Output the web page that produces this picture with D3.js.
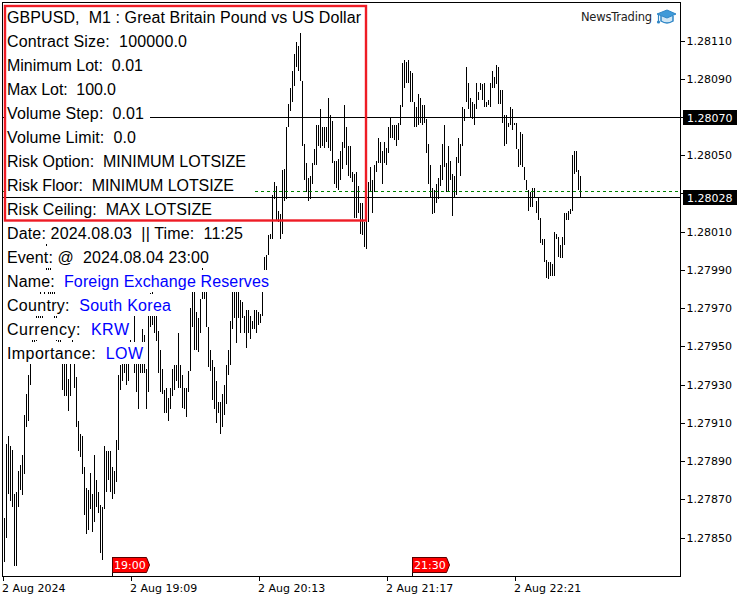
<!DOCTYPE html>
<html>
<head>
<meta charset="utf-8">
<script src="https://cdn.jsdelivr.net/npm/d3@7"></script>
<style>
  html, body { margin: 0; padding: 0; background: #fff; }
  svg { display: block; }
  text { white-space: pre; }
  .tick text { font-family: "DejaVu Sans", sans-serif; font-size: 11px; fill: #000; }
  .tick line { stroke: #000; shape-rendering: crispEdges; }
</style>
</head>
<body>
<svg id="chart" width="750" height="600"></svg>
<script>
// one minute bars, 1 + v/100000 gives the price
var highs = [
27860,27899,27903,27898,27896,27873,27874,27885,27888,27893,27914,27925,27935,27951,27956,27961,27968,27969,27979,27977,
27982,28004,27994,27993,27982,27981,27967,27956,27954,27951,27948,27948,27933,27951,27954,27947,27934,27911,27904,27903,
27887,27876,27875,27884,27873,27893,27880,27874,27867,27866,27898,27895,27895,27895,27887,27885,27901,27935,27940,27943,
27944,27945,27944,27954,27951,27966,27948,27945,27943,27959,27956,27938,27966,27978,27979,27974,27972,27958,27948,27938,
27927,27928,27923,27928,27938,27940,27940,27957,27940,27935,27928,27928,27937,27970,27982,27985,27968,27965,27975,27993,
27987,27982,27960,27948,27943,27939,27932,27921,27921,27925,27930,27940,27948,27963,27981,27981,27982,27982,27974,27973,
27966,27969,27969,27966,27963,27969,27969,27968,27967,27990,27997,27998,28008,28009,28029,28036,28034,28021,28019,28042,
28043,28065,28077,28085,28094,28103,28109,28107,28114,28089,28056,28046,28038,28039,28046,28053,28066,28066,28074,28065,
28065,28065,28080,28071,28068,28047,28047,28048,28052,28057,28076,28065,28055,28055,28041,28040,28041,28034,28025,28025,
28015,28032,28036,28044,28037,28045,28047,28059,28057,28052,28057,28054,28065,28070,28066,28066,28066,28067,28076,28098,
28100,28099,28100,28094,28093,28078,28075,28082,28080,28076,28076,28069,28056,28045,28033,28032,28035,28038,28045,28056,
28066,28046,28055,28047,28040,28039,28049,28059,28056,28075,28074,28096,28088,28080,28078,28077,28088,28083,28088,28087,
28088,28078,28079,28088,28094,28091,28097,28096,28084,28084,28071,28071,28067,28075,28074,28067,28067,28053,28062,28061,
28044,28037,28032,28031,28033,28033,28026,28028,28017,28006,28006,27995,27994,27994,27993,28010,28009,28007,28003,28007,
28020,28020,28021,28022,28050,28052,28052,28042,28039
];
var lows = [
27837,27850,27873,27869,27866,27835,27835,27866,27875,27872,27883,27908,27911,27930,27943,27948,27953,27956,27961,27964,
27969,27979,27977,27974,27969,27961,27953,27943,27942,27927,27924,27924,27916,27924,27942,27928,27908,27895,27892,27883,
27862,27852,27854,27865,27853,27858,27866,27863,27842,27838,27865,27874,27880,27874,27870,27873,27879,27896,27927,27932,
27936,27930,27932,27942,27942,27936,27926,27917,27936,27936,27936,27917,27926,27960,27961,27957,27953,27936,27926,27925,
27915,27915,27911,27917,27924,27927,27932,27928,27928,27918,27917,27913,27926,27937,27960,27948,27948,27947,27957,27975,
27975,27960,27939,27937,27922,27917,27910,27915,27904,27908,27914,27920,27935,27940,27959,27965,27952,27965,27957,27965,
27957,27949,27957,27954,27959,27959,27957,27961,27962,27966,27990,27990,27998,28006,28006,28027,28016,28015,28006,28009,
28026,28027,28065,28073,28078,28086,28096,28094,28089,28055,28037,28031,28026,28027,28035,28045,28045,28055,28054,28055,
28054,28057,28054,28052,28046,28035,28033,28032,28037,28043,28054,28045,28039,28038,28036,28017,28017,28020,28009,28008,
28002,28001,28015,28031,28020,28031,28041,28046,28046,28035,28046,28045,28051,28059,28059,28058,28055,28058,28066,28075,
28085,28088,28088,28078,28078,28065,28065,28066,28067,28066,28067,28051,28035,28028,28019,28020,28025,28027,28034,28037,
28044,28031,28031,28037,28018,28028,28029,28046,28039,28055,28068,28078,28074,28070,28069,28066,28074,28079,28084,28079,
28075,28075,28076,28075,28085,28085,28087,28077,28077,28067,28055,28056,28065,28066,28063,28066,28053,28044,28045,28044,
28037,28032,28021,28023,28023,28028,28020,28016,28004,28003,27994,27986,27985,27987,27987,27987,28006,27997,27996,27996,
28003,28016,28016,28019,28021,28040,28041,28032,28028
];

var priceTicks = [28110,28090,28070,28050,28030,28010,27990,27970,27950,27930,27910,27890,27870,27850];
var hiddenTickLabels = [28070,28030]; // these sit under the black price tags
var timeTickBars = [-1,63,127,191,255];
var timeTickLabels = ["2 Aug 2024","2 Aug 19:09","2 Aug 20:13","2 Aug 21:17","2 Aug 22:21"];
var tagBars = [54,204];
var tagLabels = ["19:00","21:30"];
var levelPrices = [28070,28028];
var bidPrice = 28031;

var infoLabels = ["GBPUSD,  M1 : Great Britain Pound vs US Dollar","Contract Size:  ","Minimum Lot:  ","Max Lot:  ","Volume Step:  ","Volume Limit:  ","Risk Option:  ","Risk Floor:  ","Risk Ceiling:  ","Date: 2024.08.03  || Time:  ","Event: @  ","Name:  ","Country:  ","Currency:  ","Importance:  "];
var infoValues = ["","100000.0","0.01","100.0","0.01","0.0","MINIMUM LOTSIZE","MINIMUM LOTSIZE","MAX LOTSIZE","11:25","2024.08.04 23:00","Foreign Exchange Reserves","South Korea","KRW","LOW"];
var infoValueBlue = [0,0,0,0,0,0,0,0,0,0,0,1,1,1,1];
// text widths in the original are hinted, so they are pinned row by row
var infoWidths = [354,180,136,109,137,129,239,227,205,236,202,262,164,122,136];
var infoPads = [4,4,4,4,6,4,18,18,18,4,4,4,4,4,4];

var price = function(v) { return 1 + v / 100000; };

var left = 2.5, right = 680.5, top_ = 2.5, bottom = 576.5;

var xScale = d3.scaleLinear().domain([0, 288]).range([4.5, 580.5]);
var yScale = d3.scaleLinear().domain([price(28110), price(27850)]).range([40.5, 537.5]);

var svg = d3.select("#chart");

// frame
svg.append("path")
    .attr("d", "M" + left + "," + bottom + "V" + top_ + "H" + right + "V" + bottom + "H" + left)
    .attr("fill", "none")
    .attr("stroke", "#000")
    .attr("shape-rendering", "crispEdges");

// axes
var yAxis = d3.axisRight(yScale)
    .tickValues(priceTicks.map(price))
    .tickFormat(function(d, i) {
        return hiddenTickLabels.indexOf(priceTicks[i]) >= 0 ? "" : d3.format(".5f")(d);
    })
    .tickSize(4)
    .tickPadding(2);
svg.append("g").attr("transform", "translate(" + right + ",0)").call(yAxis)
    .call(function(g) { g.select(".domain").remove(); });

var xAxis = d3.axisBottom(xScale)
    .tickValues(timeTickBars)
    .tickFormat(function(d, i) { return timeTickLabels[i]; })
    .tickSize(4)
    .tickPadding(4);
svg.append("g").attr("transform", "translate(0," + bottom + ")").call(xAxis)
    .call(function(g) {
        g.select(".domain").remove();
        g.selectAll("text").attr("text-anchor", "start").attr("dx", -1);
    });

// bars
svg.append("g").selectAll("line").data(highs).enter().append("line")
    .attr("x1", function(d, i) { return xScale(i); })
    .attr("x2", function(d, i) { return xScale(i); })
    .attr("y1", function(d) { return yScale(price(d)); })
    .attr("y2", function(d, i) { return yScale(price(lows[i])); })
    .attr("stroke", "#000")
    .attr("shape-rendering", "crispEdges");

// dashed bid line and the two level lines
svg.append("line")
    .attr("x1", left).attr("x2", right)
    .attr("y1", Math.floor(yScale(price(bidPrice))) + 0.5).attr("y2", Math.floor(yScale(price(bidPrice))) + 0.5)
    .attr("stroke", "#008000")
    .attr("stroke-dasharray", "3,3")
    .attr("shape-rendering", "crispEdges");

svg.append("g").selectAll("line").data(levelPrices).enter().append("line")
    .attr("x1", left).attr("x2", right)
    .attr("y1", function(d) { return Math.round(yScale(price(d))) + 0.5; })
    .attr("y2", function(d) { return Math.round(yScale(price(d))) + 0.5; })
    .attr("stroke", "#000")
    .attr("shape-rendering", "crispEdges");

var levelTags = svg.append("g").selectAll("g").data(levelPrices).enter().append("g")
    .attr("transform", function(d) { return "translate(683," + Math.round(yScale(price(d))) + ")"; });
levelTags.append("rect")
    .attr("x", 0).attr("y", -7).attr("width", 54).attr("height", 15)
    .attr("fill", "#000");
levelTags.append("text")
    .attr("x", 4).attr("y", 4.5)
    .attr("font-family", "DejaVu Sans").attr("font-size", 11)
    .attr("fill", "#fff")
    .text(function(d) { return price(d).toFixed(5); });

// time tags
var tags = svg.append("g").selectAll("g").data(tagBars).enter().append("g")
    .attr("transform", function(d) { return "translate(" + (xScale(d) - 0.5) + ",0)"; });
tags.append("line")
    .attr("x1", 0.5).attr("x2", 0.5).attr("y1", 557).attr("y2", bottom)
    .attr("stroke", "#000").attr("shape-rendering", "crispEdges");
tags.append("path")
    .attr("d", "M0.5,557.5H34.5L37.5,565L34.5,572.5H0.5Z")
    .attr("fill", "#ff0000")
    .attr("stroke", "#5a0000");
tags.append("text")
    .attr("x", 2).attr("y", 569)
    .attr("font-family", "DejaVu Sans").attr("font-size", 11)
    .attr("fill", "#fff")
    .text(function(d, i) { return tagLabels[i]; });

// logo
svg.append("text")
    .attr("x", 581).attr("y", 21)
    .attr("font-family", "DejaVu Sans").attr("font-size", 11.5)
    .attr("fill", "#222")
    .attr("textLength", 71)
    .text("NewsTrading");
var cap = svg.append("g").attr("transform", "translate(657,9)");
cap.append("path").attr("d", "M4,7V12Q10,16 16,12V7").attr("fill", "#cfe6f5").attr("stroke", "#2f86c6").attr("stroke-width", 1.5);
cap.append("path").attr("d", "M0,5L10,1L19,5L10,9Z").attr("fill", "#3f9ad8").attr("stroke", "#2f86c6");
cap.append("path").attr("d", "M1.5,5.5V12").attr("stroke", "#2f86c6").attr("stroke-width", 1.2);
cap.append("circle").attr("cx", 1.5).attr("cy", 13).attr("r", 1.6).attr("fill", "#2f86c6");

// info panel, white label boxes hide the bars behind them
var rows = svg.append("g").selectAll("g").data(infoLabels).enter().append("g")
    .attr("transform", function(d, i) { return "translate(0," + (6 + 24 * i) + ")"; });
rows.append("rect")
    .attr("x", 5).attr("y", 0).attr("height", 22)
    .attr("width", function(d, i) { return infoWidths[i] + 2 + infoPads[i]; })
    .attr("fill", "#fff");
var texts = rows.append("text")
    .attr("x", 7).attr("y", 17)
    .attr("font-family", "Liberation Sans").attr("font-size", 16)
    .attr("fill", "#000")
    .attr("textLength", function(d, i) { return infoWidths[i]; })
    .attr("lengthAdjust", "spacing");
texts.append("tspan").text(function(d) { return d; });
texts.append("tspan")
    .attr("fill", function(d, i) { return infoValueBlue[i] ? "#0000ff" : "#000"; })
    .text(function(d, i) { return infoValues[i]; });

// red box round the symbol block
svg.append("rect")
    .attr("x", 5).attr("y", 6).attr("width", 361).attr("height", 214.5)
    .attr("fill", "none")
    .attr("stroke", "#ee1c25")
    .attr("stroke-width", 2.4);
</script>
</body>
</html>
